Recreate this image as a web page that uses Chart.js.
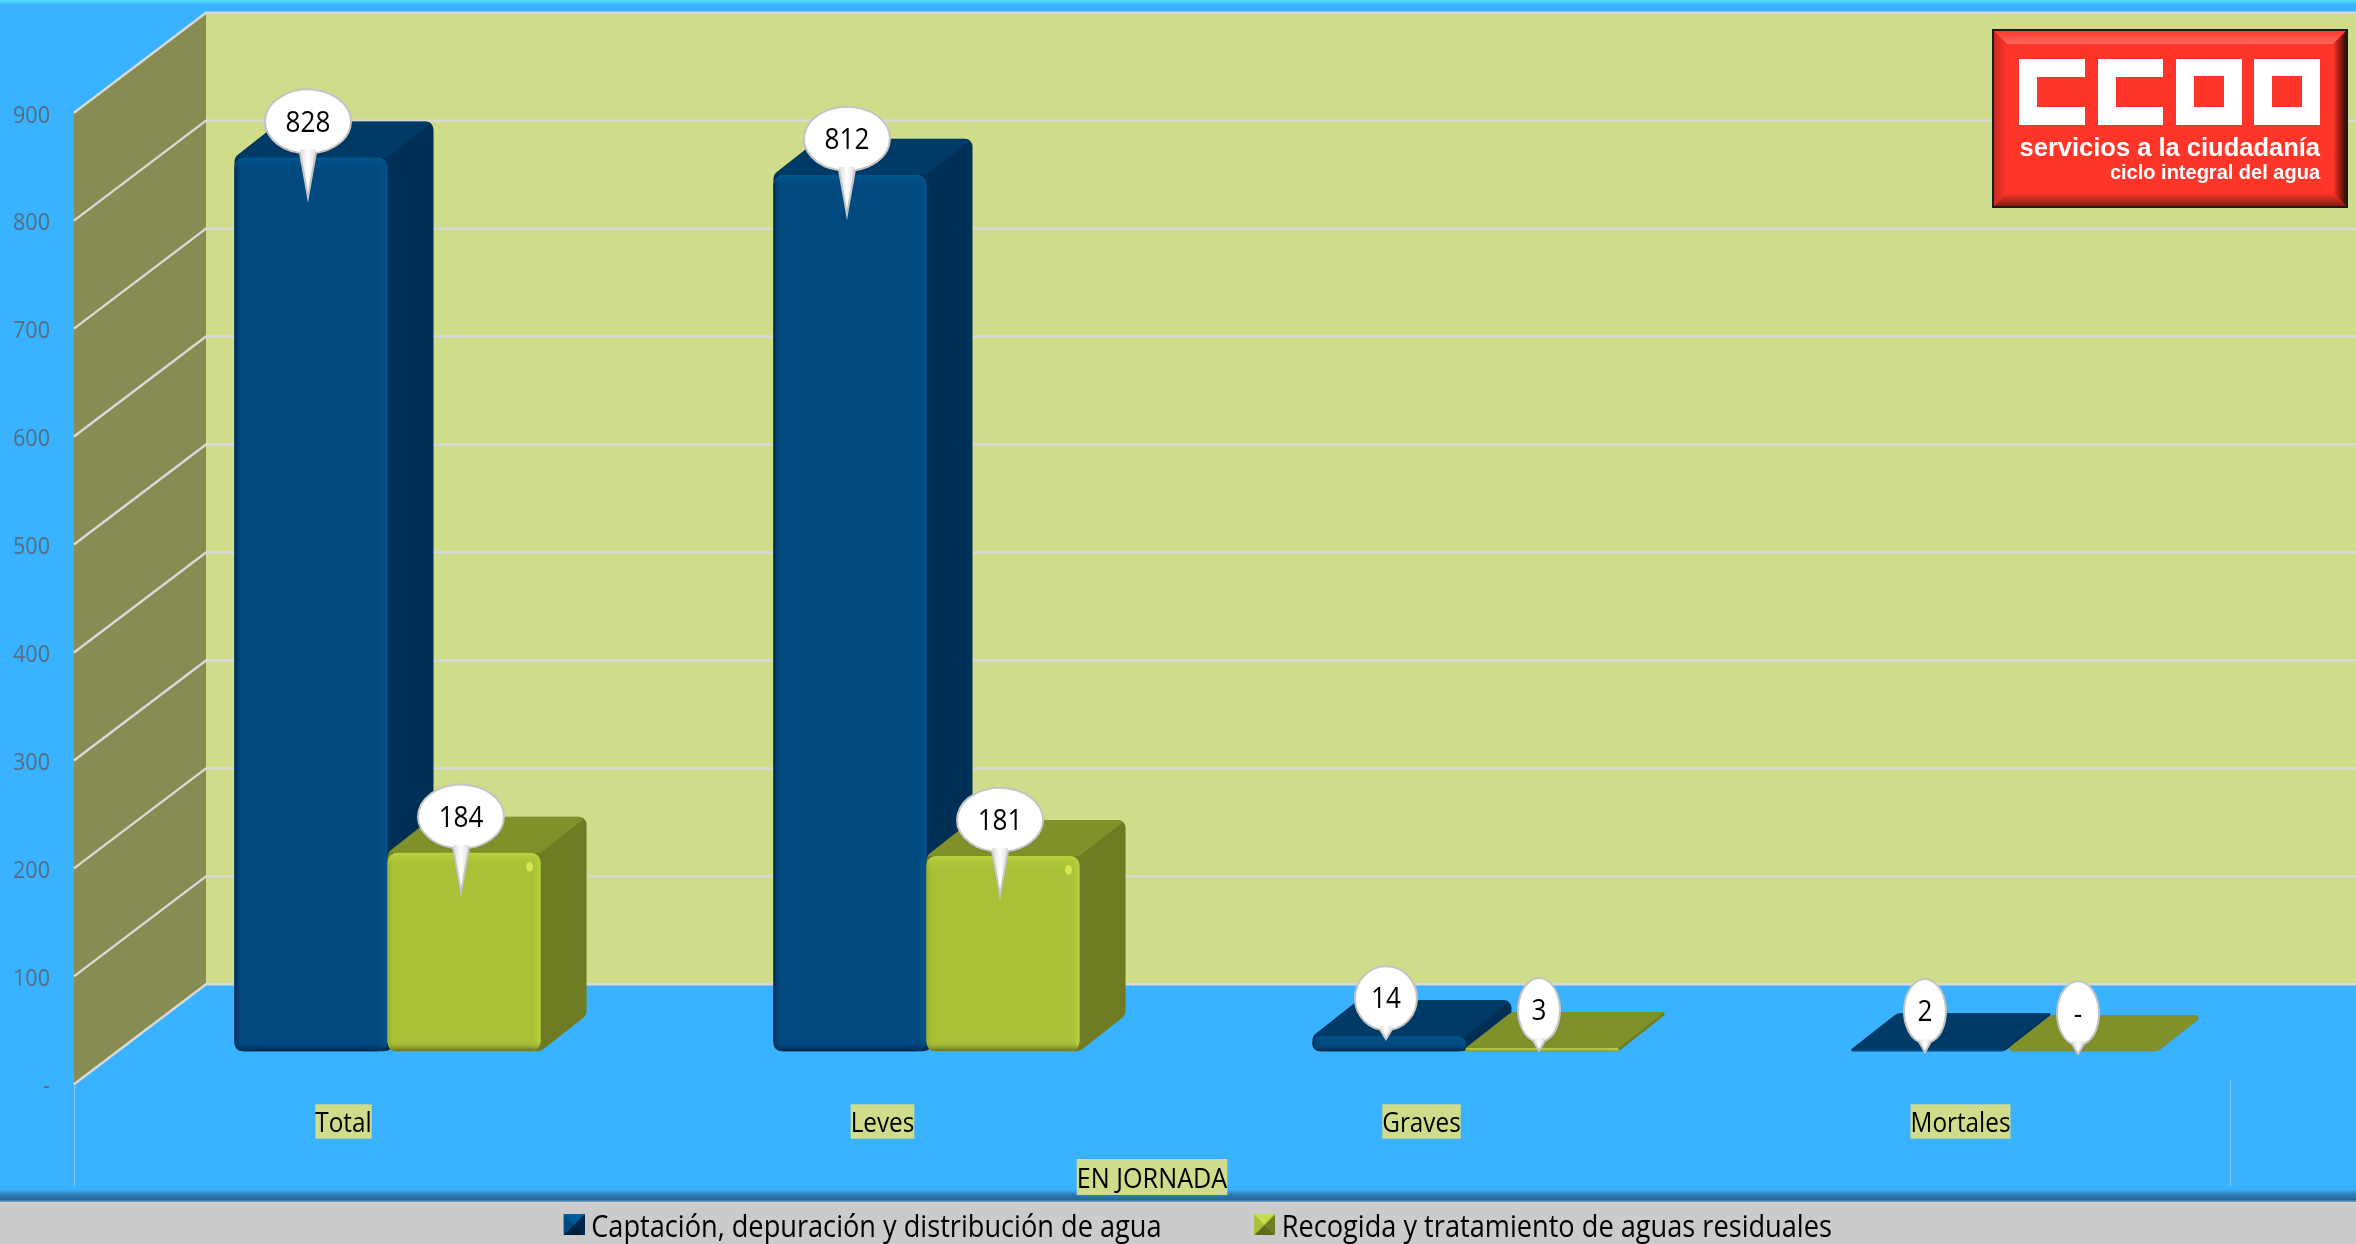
<!DOCTYPE html>
<html lang="es">
<head>
<meta charset="utf-8">
<style>html,body{margin:0;padding:0;background:#39b2ff}canvas{display:block}</style>
<script src="https://cdn.jsdelivr.net/npm/chart.js@4"></script>
</head>
<body>
<canvas id="c" width="2356" height="1244"></canvas>
<script>
const categories = ['Total', 'Leves', 'Graves', 'Mortales'];
const captacion = [828, 812, 14, 2];
const recogida = [184, 181, 3, 0];
const seriesNames = ['Captación, depuración y distribución de agua', 'Recogida y tratamiento de aguas residuales'];
const axisTitle = 'EN JORNADA';
const yMax = 900, yStep = 100;

const W = 2356, H = 1244;
const FONT = "'Open Sans'";
const front = {left: 74, right: 2230, top: 112.7, bottom: 1084.3};
const wall = {dx: 132, dy: 100};
const plane = {dx: 44, dy: 33};   // bars stand this far behind the front plane
const depth = {dx: 46, dy: 36};   // depth of each bar
const palette = [
  {front: '#004a80', side: '#002f55', top: '#003a66', hi: '#00568f', lo: '#00264a', edge: '#00335e'},
  {front: '#a9c136', side: '#6f7c24', top: '#81912a', hi: '#bcd53e', lo: '#76852a', edge: '#98ae30'}
];

const canvas = document.getElementById('c');
const ctx = canvas.getContext('2d');

// Condense text horizontally: the reference face is narrower than the installed ones
const squeeze = 0.9, textDrop = 3;
const rawFill = ctx.fillText.bind(ctx), rawMeasure = ctx.measureText.bind(ctx);
ctx.fillText = function (t, x, y) {
  ctx.save(); ctx.translate(x, y + textDrop); ctx.scale(squeeze, 1); rawFill(t, 0, 0); ctx.restore();
};
ctx.measureText = function (t) {
  const m = rawMeasure(t);
  return {width: m.width * squeeze, actualBoundingBoxAscent: m.actualBoundingBoxAscent, actualBoundingBoxDescent: m.actualBoundingBoxDescent};
};

function roundPoly(c, pts, r) {
  const p = pts.filter((q, i) => {
    const n = pts[(i + 1) % pts.length];
    return Math.hypot(q[0] - n[0], q[1] - n[1]) > 0.5;
  });
  const n = p.length;
  c.beginPath();
  const s = [(p[n - 1][0] + p[0][0]) / 2, (p[n - 1][1] + p[0][1]) / 2];
  c.moveTo(s[0], s[1]);
  for (let i = 0; i < n; i++) {
    const a = p[i], b = p[(i + 1) % n], z = p[(i + n - 1) % n];
    const u = Math.atan2(z[1] - a[1], z[0] - a[0]), v = Math.atan2(b[1] - a[1], b[0] - a[0]);
    let ang = Math.abs(u - v); if (ang > Math.PI) ang = 2 * Math.PI - ang;
    // keep the tangent length short so sharp corners stay crisp and short edges stay whole
    const reach = Math.min(8, Math.hypot(a[0] - b[0], a[1] - b[1]) / 2, Math.hypot(a[0] - z[0], a[1] - z[1]) / 2);
    c.arcTo(a[0], a[1], b[0], b[1], Math.min(r, reach * Math.tan(ang / 2)));
  }
  c.closePath();
}

function markerCanvas(i, w) {
  const m = document.createElement('canvas');
  m.width = w; m.height = 21;
  const g = m.getContext('2d'), x0 = w - 21, c = palette[i];
  g.fillStyle = c.front; g.fillRect(x0, 0, 21, 21);
  g.fillStyle = i ? '#c6dc48' : '#005d9c';
  g.beginPath(); g.moveTo(x0, 0); g.lineTo(x0 + 21, 0); g.lineTo(x0 + 10.5, 10.5); g.closePath(); g.fill();
  g.fillStyle = i ? '#6f7c24' : '#00264a';
  g.beginPath(); g.moveTo(x0 + 21, 0); g.lineTo(x0 + 21, 21); g.lineTo(x0 + 10.5, 10.5); g.closePath(); g.fill();
  g.fillStyle = i ? '#5f6b1e' : '#001f3d';
  g.beginPath(); g.moveTo(x0, 21); g.lineTo(x0 + 21, 21); g.lineTo(x0 + 10.5, 10.5); g.closePath(); g.fill();
  return m;
}

const LEGEND_BOX = 101;
const markers = [markerCanvas(0, 118), markerCanvas(1, 118)];

function drawFaces(c, meta, pal) {
  meta.data.forEach(el => {
    const xl = el.x - el.width / 2, xr = el.x + el.width / 2, yt = el.y, b = el.base, d = depth;
    roundPoly(c, [[xl, yt], [xl + d.dx, yt - d.dy], [xr + d.dx, yt - d.dy], [xr + d.dx, b - d.dy], [xr, b], [xl, b]], 10);
    c.save();
    c.fillStyle = pal.side; c.fill(); c.clip();
    c.fillStyle = pal.top;
    c.beginPath();
    c.moveTo(xl, yt); c.lineTo(xl + d.dx, yt - d.dy); c.lineTo(xr + d.dx, yt - d.dy); c.lineTo(xr, yt);
    c.closePath(); c.fill();
    c.restore();
  });
}

function drawBevels(c, meta, pal, index) {
  meta.data.forEach(el => {
    const xl = el.x - el.width / 2, xr = el.x + el.width / 2, yt = el.y, b = el.base, h = b - yt;
    if (h < 3) return;
    c.save();
    c.beginPath(); c.roundRect(xl, yt, xr - xl, h, 10); c.clip();
    const band = (x0, y0, x1, y1, from, rx, ry, rw, rh) => {
      const g = c.createLinearGradient(x0, y0, x1, y1);
      g.addColorStop(0, from); g.addColorStop(1, pal.front + '00');
      c.fillStyle = g; c.fillRect(rx, ry, rw, rh);
    };
    const s = Math.min(14, h / 2);
    band(xl, 0, xl + 8, 0, index ? pal.edge : pal.lo, xl, yt, 8, h);
    band(xr, 0, xr - 10, 0, pal.hi, xr - 10, yt, 10, h);
    band(0, yt, 0, yt + s, pal.hi, xl, yt, xr - xl, s);
    band(0, b, 0, b - Math.min(10, s), index ? '#5f6b1e' : pal.lo, xl, b - Math.min(10, s), xr - xl, Math.min(10, s));
    if (index && h > 40) {
      c.fillStyle = '#d6e84e';
      c.beginPath(); c.ellipse(xr - 11, yt + 14, 3.5, 5, 0, 0, 7); c.fill();
    }
    c.restore();
  });
}

const scene = {
  id: 'scene',
  afterLayout(chart) { chart.legend.right = 2307; chart.legend.top += 6; },
  beforeDraw(chart) {
    const c = chart.ctx, y = chart.scales.y, a = chart.chartArea;
    c.save();
    c.fillStyle = '#39b2ff'; c.fillRect(0, 0, W, H);
    // top sheen
    const t = c.createLinearGradient(0, 0, 0, 5);
    t.addColorStop(0, '#55e0ff'); t.addColorStop(1, '#39b2ff');
    c.fillStyle = t; c.fillRect(0, 0, W, 5);
    // back wall
    const y0 = y.getPixelForValue(0), yM = y.getPixelForValue(yMax);
    c.fillStyle = '#cfdc8a';
    c.fillRect(a.left + wall.dx, yM - wall.dy, W - a.left - wall.dx, y0 - yM);
    // side wall
    c.fillStyle = '#868c52';
    c.beginPath();
    c.moveTo(a.left, y0); c.lineTo(a.left + wall.dx, y0 - wall.dy);
    c.lineTo(a.left + wall.dx, yM - wall.dy); c.lineTo(a.left, yM);
    c.closePath(); c.fill();
    // gridlines
    c.strokeStyle = '#d9d9d9'; c.lineWidth = 2.4;
    for (let v = 0; v <= yMax; v += yStep) {
      const p = y.getPixelForValue(v);
      c.beginPath();
      c.moveTo(a.left, p); c.lineTo(a.left + wall.dx, p - wall.dy); c.lineTo(W, p - wall.dy);
      c.stroke();
    }
    // front-plane edge marks
    c.strokeStyle = 'rgba(190,225,245,.55)'; c.lineWidth = 1;
    [a.left, a.right].forEach(x => {
      c.beginPath(); c.moveTo(x + .5, x === a.left ? y0 : y0 - 5); c.lineTo(x + .5, 1198); c.stroke();
    });
    // bottom band and legend strip
    const b = c.createLinearGradient(0, 1186, 0, 1202);
    b.addColorStop(0, '#39b2ff'); b.addColorStop(.25, '#3ab0fa'); b.addColorStop(.5, '#2f80bb');
    b.addColorStop(.85, '#27669a'); b.addColorStop(1, '#7da6c4');
    c.fillStyle = b; c.fillRect(0, 1186, W, 16);
    c.fillStyle = '#cbcbcb'; c.fillRect(0, 1202, W, H - 1202);
    // axis title backdrop
    const s = chart.scales.x, o = s.options.title;
    c.font = o.font.size + 'px ' + FONT;
    const tw = c.measureText(o.text).width;
    const cy = s.bottom - o.padding.bottom - o.font.size * 0.6;
    c.fillStyle = '#cfdc8a';
    c.fillRect((s.left + s.right) / 2 - tw / 2, cy - 18, tw, 36);
    c.restore();
  },
  beforeDatasetDraw(chart, args) {
    // The second series sits in front of the first, so it is painted right after it.
    if (args.index === 1) return false;
    const c = chart.ctx;
    c.save();
    c.translate(plane.dx, -plane.dy);
    drawFaces(c, args.meta, palette[0]);
  },
  afterDatasetDraw(chart, args) {
    const c = chart.ctx;
    drawBevels(c, args.meta, palette[0], 0);
    const second = chart.getDatasetMeta(1);
    drawFaces(c, second, palette[1]);
    second.controller.draw();
    drawBevels(c, second, palette[1], 1);
    c.restore();
  },
  afterDatasetsDraw(chart) {
    const c = chart.ctx;
    [0, 1].forEach(ds => {
      const values = chart.data.datasets[ds].data;
      chart.getDatasetMeta(ds).data.forEach((el, i) => {
        const txt = values[i] === 0 ? '-' : String(values[i]);
        const x = el.x + plane.dx - 3, y = el.y - plane.dy;
        const h = el.base - el.y;
        const tip = y + (h > 60 ? 40 : 3);
        const cy = y - (h > 60 ? 36 : 38);
        const rx = {1: 21, 2: 31, 3: 43}[txt.length], ry = 32;
        const hw = txt.length === 3 ? 8 : 6;
        c.save();
        c.shadowColor = 'rgba(0,0,0,.25)'; c.shadowBlur = 2; c.shadowOffsetY = 1;
        const path = () => {
          c.beginPath();
          const base = Math.sqrt(Math.max(0, 1 - (hw / rx) * (hw / rx))) * ry;
          c.ellipse(x, cy, rx, ry, 0, Math.PI - Math.atan2(base / ry, hw / rx), Math.atan2(base / ry, hw / rx), false);
          c.lineTo(x, tip);
          c.closePath();
        };
        path();
        const g = c.createLinearGradient(x - hw, 0, x + hw, 0);
        g.addColorStop(0, '#dcdcdc'); g.addColorStop(.5, '#ffffff'); g.addColorStop(1, '#dcdcdc');
        c.fillStyle = '#ffffff'; c.fill();
        c.shadowColor = 'transparent';
        c.fillStyle = g;
        c.beginPath(); c.moveTo(x - hw, cy + ry - 4); c.lineTo(x, tip); c.lineTo(x + hw, cy + ry - 4); c.closePath(); c.fill();
        path();
        c.strokeStyle = '#c4c4c4'; c.lineWidth = 2; c.stroke();
        c.fillStyle = '#000';
        c.font = '29px ' + FONT;
        c.textAlign = 'center'; c.textBaseline = 'middle';
        c.fillText(txt, x, cy - 1);
        c.restore();
      });
    });
    drawLogo(c);
  }
};

function drawLogo(c) {
  const x = 1993, y = 30, w = 354, h = 177, b = 14;
  c.save();
  c.fillStyle = '#ff3529'; c.fillRect(x, y, w, h);
  const tri = (pts, col) => { c.fillStyle = col; c.beginPath(); pts.forEach((p, i) => i ? c.lineTo(p[0], p[1]) : c.moveTo(p[0], p[1])); c.closePath(); c.fill(); };
  const grad = (x0, y0, x1, y1, a, z) => { const g = c.createLinearGradient(x0, y0, x1, y1); g.addColorStop(0, a); g.addColorStop(1, z); return g; };
  tri([[x, y], [x + w, y], [x + w - b, y + b], [x + b, y + b]], grad(0, y, 0, y + b, '#ff3529', '#ff6a5c'));
  tri([[x + w, y], [x + w, y + h], [x + w - b, y + h - b], [x + w - b, y + b]], grad(x + w, 0, x + w - b, 0, '#2a0805', '#ff3529'));
  tri([[x, y + h], [x + w, y + h], [x + w - b, y + h - b], [x + b, y + h - b]], grad(0, y + h, 0, y + h - b, '#7a1c14', '#ff3529'));
  tri([[x, y], [x, y + h], [x + b, y + h - b], [x + b, y + b]], grad(x, 0, x + b, 0, '#c8281e', '#ff3529'));
  c.strokeStyle = '#1a1a1a'; c.lineWidth = 2; c.strokeRect(x, y, w, h);
  c.fillStyle = '#fff';
  const cc = (l, r) => { c.fillRect(l, 59, r - l, 18); c.fillRect(l, 107, r - l, 18); c.fillRect(l, 59, 18, 66); };
  const oo = (l, r) => { c.beginPath(); c.rect(l, 59, r - l, 66); c.rect(l + 18, 76, r - l - 36, 31); c.fill('evenodd'); };
  cc(2019, 2085); cc(2098, 2163); oo(2176, 2242); oo(2254, 2320);
  c.textAlign = 'right'; c.textBaseline = 'alphabetic';
  c.font = "bold 25.5px 'Liberation Sans'";
  rawFill('servicios a la ciudadanía', 2320, 156);
  c.font = "bold 20px 'Liberation Sans'";
  rawFill('ciclo integral del agua', 2320, 179);
  c.restore();
}

new Chart(ctx, {
  type: 'bar',
  data: {
    labels: categories,
    datasets: [
      {label: seriesNames[0], data: captacion, backgroundColor: palette[0].front, clip: false, borderRadius: 10, borderSkipped: false,
       categoryPercentage: 0.568, barPercentage: 1},
      {label: seriesNames[1], data: recogida, backgroundColor: palette[1].front, clip: false, borderRadius: 10, borderSkipped: false,
       categoryPercentage: 0.568, barPercentage: 1}
    ]
  },
  plugins: [scene],
  options: {
    responsive: false, animation: false, devicePixelRatio: 1,
    layout: {padding: {top: front.top, right: W - front.right, left: 0, bottom: 0}},
    plugins: {
      tooltip: {enabled: false},
      legend: {
        position: 'bottom',
        labels: {
          usePointStyle: true, pointStyleWidth: LEGEND_BOX, boxHeight: 30, padding: 4,
          color: '#000', font: {family: FONT, size: 30.2},
          generateLabels(chart) {
            return Chart.defaults.plugins.legend.labels.generateLabels(chart).map((it, i) => ({...it, pointStyle: markers[i]}));
          }
        }
      }
    },
    scales: {
      x: {
        grid: {display: false, drawTicks: false}, border: {display: false},
        ticks: {
          color: '#000', font: {family: FONT, size: 27}, padding: 21, maxRotation: 0,
          showLabelBackdrop: true, backdropColor: '#cfdc8a', backdropPadding: {x: 0, y: 1}
        },
        title: {display: true, text: axisTitle, color: '#000', font: {family: FONT, size: 28}, padding: {top: 0, bottom: 6}},
        afterFit(s) { s.height = H - front.bottom - s.chart.legend.height; }
      },
      y: {
        min: 0, max: yMax,
        grid: {display: false, drawTicks: false}, border: {display: false},
        afterFit(s) { s.width = front.left; },
        ticks: {
          stepSize: yStep, color: '#566d82', font: {family: FONT, size: 24}, padding: 24,
          callback: v => v === 0 ? '-' : String(v)
        }
      }
    }
  }
});
</script>
</body>
</html>
